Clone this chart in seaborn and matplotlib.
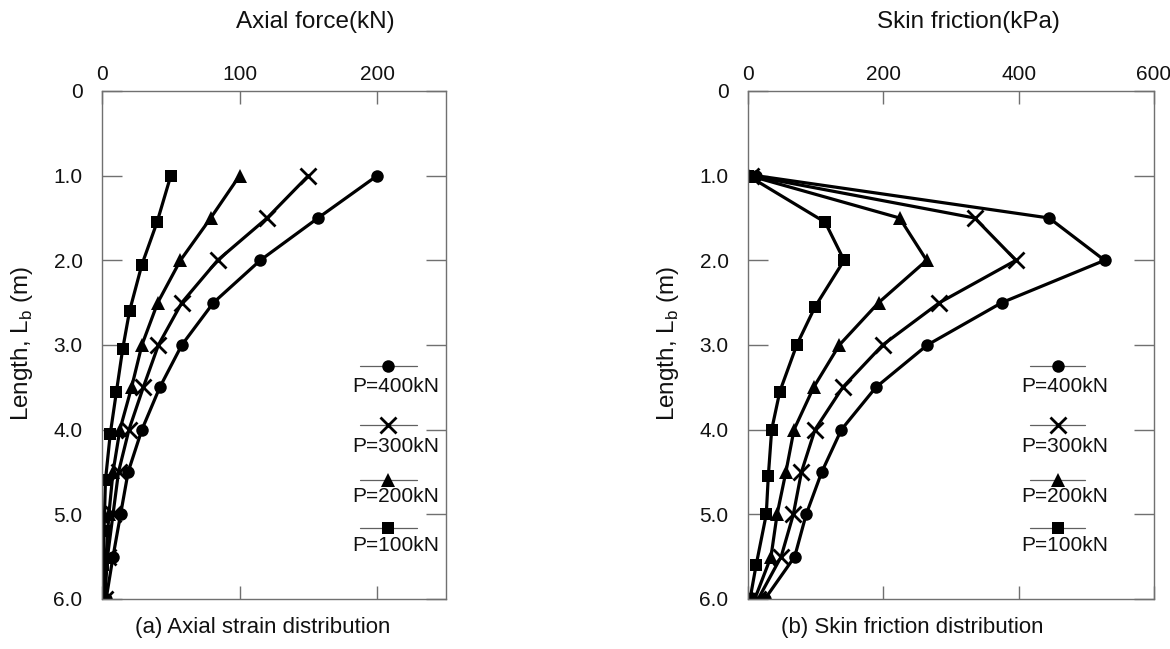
import matplotlib
matplotlib.use("Agg")
import matplotlib.pyplot as plt
import seaborn as sns
import pandas as pd

# Depths along the pile (m)
depth = [1.0, 1.5, 2.0, 2.5, 3.0, 3.5, 4.0, 4.5, 5.0, 5.5, 6.0]
depth_p100_axial = [1.0, 1.55, 2.05, 2.6, 3.05, 3.55, 4.05, 4.6, 5.2, 5.6, 6.0]
depth_p100_skin = [1.0, 1.55, 2.0, 2.55, 3.0, 3.55, 4.0, 4.55, 5.0, 5.6, 6.0]

# Axial force (kN)
axial_p400 = [200, 157, 115, 81, 58, 42, 29, 19, 13.5, 8, 3]
axial_p300 = [150, 120, 84, 58, 41, 30, 19.6, 12, 8, 4, 2]
axial_p200 = [100, 79, 57, 40.5, 29, 21.5, 13, 8, 5, 3, 1]
axial_p100 = [50, 40, 29, 20, 15, 10.5, 6, 2.5, 1.5, 1, 0]

# Skin friction (kPa)
skin_p400 = [12, 445, 527, 375, 265, 189, 138, 109, 86, 69, 25]
skin_p300 = [4, 335, 396, 283, 199, 140, 99, 79, 67, 49, 15]
skin_p200 = [2, 224, 264, 193, 135, 97, 68, 56, 43, 34, 10]
skin_p100 = [0, 114, 142, 99, 72, 47, 35, 30, 27, 12, 3]

load_labels = ["P=400kN", "P=300kN", "P=200kN", "P=100kN"]
depth_ticks = [0, 1, 2, 3, 4, 5, 6]
depth_ticklabels = ["0", "1.0", "2.0", "3.0", "4.0", "5.0", "6.0"]

sns.set_theme(style="white")
plt.rcParams["font.family"] = ["Liberation Sans", "DejaVu Sans"]

markers = {"P=400kN": dict(marker="o", markersize=9, markeredgewidth=0),
           "P=300kN": dict(marker="x", markersize=11, markeredgewidth=2),
           "P=200kN": dict(marker="^", markersize=10, markeredgewidth=0),
           "P=100kN": dict(marker="s", markersize=9, markeredgewidth=0)}

fig = plt.figure(figsize=(11.7, 6.49), dpi=100)
ax1 = fig.add_axes([102 / 1170, 1 - 599 / 649, 344 / 1170, 508 / 649])
ax2 = fig.add_axes([748 / 1170, 1 - 599 / 649, 406 / 1170, 508 / 649])

panels = [
    (ax1, [axial_p400, axial_p300, axial_p200, axial_p100],
     [depth, depth, depth, depth_p100_axial], (0, 250), [0, 100, 200],
     "Axial force(kN)", 315, "(a) Axial strain distribution", 263, 102),
    (ax2, [skin_p400, skin_p300, skin_p200, skin_p100],
     [depth, depth, depth, depth_p100_skin], (0, 600), [0, 200, 400, 600],
     "Skin friction(kPa)", 968, "(b) Skin friction distribution", 912, 748),
]

spine_col = "#707070"

for ax, series, depths, xlim, xticks, xlabel, xlab_px, caption, cap_px, x0_px in panels:
    for lab, vals, dep in zip(load_labels, series, depths):
        df = pd.DataFrame({"value": vals, "depth": dep})
        sns.lineplot(data=df, x="value", y="depth", sort=False, estimator=None,
                     color="black", linewidth=2.3, ax=ax,
                     markeredgecolor="black", markerfacecolor="black",
                     **markers[lab])

    ax.set_xlim(*xlim)
    ax.set_ylim(6, 0)
    ax.set_xticks(xticks)
    ax.set_yticks(depth_ticks)
    ax.set_yticklabels(depth_ticklabels)
    ax.xaxis.set_label_position("top")
    ax.set_xlabel("")
    ax.set_ylabel("")
    ax.tick_params(axis="x", which="both", direction="in", length=9.5, width=1,
                   color=spine_col, top=True, bottom=True, labeltop=True,
                   labelbottom=False, labelsize=15, labelcolor="#111111", pad=5)
    ax.tick_params(axis="y", which="both", direction="in", length=14.5, width=1,
                   color=spine_col, left=True, right=True, labelleft=True,
                   labelright=False, labelsize=15, labelcolor="#111111", pad=14)
    for sp in ax.spines.values():
        sp.set_color(spine_col)
        sp.set_linewidth(1)
        sp.set_visible(True)

    # Axis titles and captions placed in figure coordinates
    fig.text(xlab_px / 1170, 1 - 22 / 649, xlabel, ha="center", va="center",
             fontsize=17.5, color="#111111")
    fig.text(cap_px / 1170, 1 - 628 / 649, caption, ha="center", va="center",
             fontsize=16, color="#111111")
    fig.text((x0_px - 80) / 1170, 1 - 343 / 649, r"Length, L$_{\mathregular{b}}$ (m)",
             rotation=90, ha="center", va="center", fontsize=17.5, color="#111111")

# Stacked legends: marker on a short line with the label underneath
leg_marker_y = [0.459, 0.343, 0.234, 0.140]
leg_text_y = [0.419, 0.301, 0.201, 0.106]
for ax, mx, lx0, lx1, tx in [(ax1, 0.831, 0.750, 0.916, 0.855),
                             (ax2, 0.764, 0.695, 0.830, 0.781)]:
    for lab, my, ty in zip(load_labels, leg_marker_y, leg_text_y):
        ax.plot([lx0, lx1], [my, my], color="#606060", linewidth=0.9,
                transform=ax.transAxes, clip_on=False)
        ax.plot([mx], [my], color="black", linestyle="none",
                transform=ax.transAxes, clip_on=False, **markers[lab])
        ax.text(tx, ty, lab, transform=ax.transAxes, ha="center", va="center",
                fontsize=15, color="#111111")

fig.savefig("out.png", dpi=100)
